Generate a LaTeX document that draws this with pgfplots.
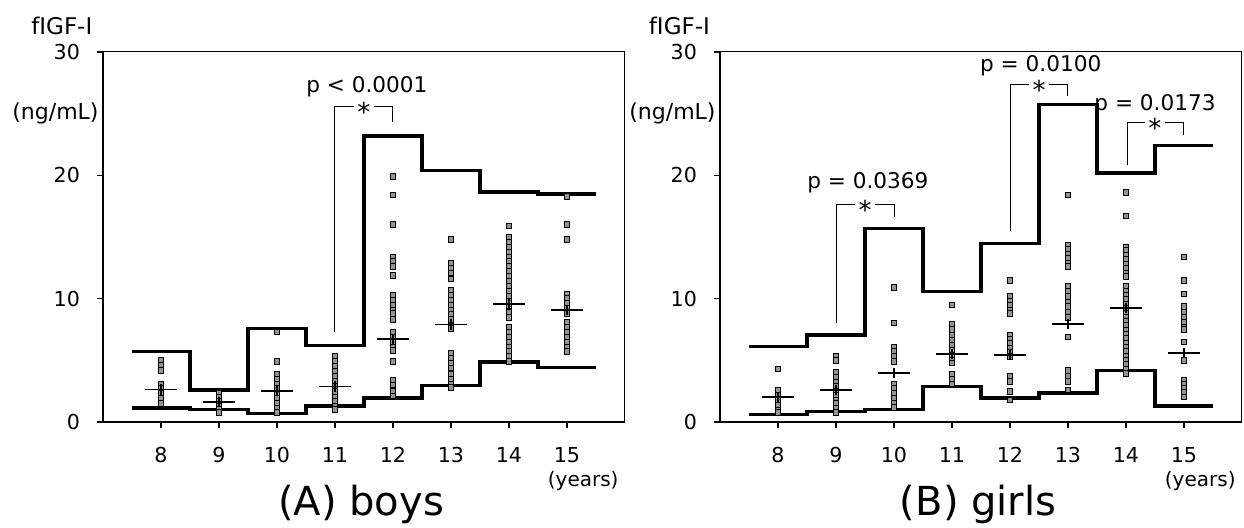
\documentclass[border=0pt]{standalone}
\usepackage{fontspec}
\setmainfont{DejaVu Sans}
\usepackage{pgfplots}
\pgfplotsset{compat=1.18}

\pgfplotsset{
  panel/.style={
    scale only axis, width=261pt, height=185pt, anchor=south west,
    xmin=7, xmax=16, ymin=0, ymax=30,
    xtick={8,...,15}, ytick={0,10,20,30},
    xtick pos=bottom, ytick pos=left,
    tick align=outside, major tick length=3pt,
    tick style={black, line width=0.6pt},
    axis line style={line width=0.5pt},
    clip=false,
    /pgf/number format/assume math mode=true,
    tick label style={font=\fontsize{10.3}{12}\selectfont},
    xticklabel shift=6pt, yticklabel shift=5pt,
  },
  bound/.style={black, line width=1.7pt, const plot mark left, line join=miter, no marks},
  pts/.style={only marks, mark=square*, mark size=1.4pt, mark options={fill=black!42, draw=none}},
  meanh/.style={only marks, mark=-, mark size=7.8pt, mark options={line width=0.8pt, black}},
  meanv/.style={only marks, mark=|, mark size=2.6pt, mark options={line width=0.8pt, black}},
}
\tikzset{brk/.style={black, line width=0.5pt}}
\newcommand{\frameit}{%
  \draw[line width=0.9pt] (rel axis cs:0,1) -- (rel axis cs:0,0) -- (rel axis cs:1,0);}
\newcommand{\sigstar}[2]{\node[inner sep=0pt, anchor=base, yshift=-7.6pt,
  font=\fontsize{13}{13}\selectfont] at (axis cs:#1,#2) {*};}
\newcommand{\pval}[3]{\node[inner sep=0pt, font=\fontsize{10.8}{12}\selectfont] at (axis cs:#1,#2) {#3};}

\begin{document}
\begin{tikzpicture}
\useasboundingbox (0pt,0pt) rectangle (622pt,264pt);

% ---------------- (A) boys
\begin{axis}[panel, at={(51.5pt,53pt)}]
\frameit
\addplot[pts] table {
x y
8 5.0
8 4.6
8 4.2
8 3.1
8 2.7
8 2.3
8 1.9
8 1.5
9 2.3
9 2.0
9 1.65
9 1.3
9 1.0
9 0.76
10 7.3
10 4.9
10 3.9
10 3.5
10 3.1
10 2.7
10 2.3
10 1.9
10 1.5
10 1.1
10 0.8
11 5.3
11 4.9
11 4.5
11 4.1
11 3.7
11 3.3
11 2.9
11 2.5
11 2.05
11 1.65
11 1.25
11 1.0
12 19.9
12 18.4
12 16.0
12 13.4
12 13.0
12 12.6
12 11.9
12 10.3
12 9.9
12 9.5
12 9.1
12 8.8
12 8.3
12 7.3
12 6.9
12 6.5
12 6.1
12 5.8
12 4.9
12 3.4
12 3.0
12 2.5
12 2.1
13 14.8
13 12.9
13 12.5
13 12.1
13 11.6
13 10.7
13 10.3
13 9.9
13 9.5
13 9.1
13 8.7
13 8.3
13 7.8
13 7.6
13 5.6
13 5.2
13 4.8
13 4.4
13 3.9
13 3.5
13 3.1
13 2.8
14 15.9
14 15.0
14 14.6
14 14.2
14 13.8
14 13.4
14 13.0
14 12.6
14 12.2
14 11.8
14 11.4
14 11.0
14 10.6
14 10.2
14 9.8
14 9.4
14 8.9
14 8.5
14 7.7
14 7.3
14 6.9
14 6.5
14 6.1
14 5.7
14 5.3
14 4.9
15 18.3
15 16.0
15 14.8
15 10.4
15 10.0
15 9.6
15 9.2
15 8.8
15 8.1
15 7.7
15 7.3
15 6.9
15 6.5
15 6.1
15 5.7
};
\addplot[bound] coordinates {(7.5,5.7) (8.5,2.6) (9.5,7.6) (10.5,6.2) (11.5,23.2) (12.5,20.4) (13.5,18.65) (14.5,18.5) (15.5,18.5)};
\addplot[bound] coordinates {(7.5,1.15) (8.5,1.0) (9.5,0.7) (10.5,1.3) (11.5,1.95) (12.5,2.97) (13.5,4.85) (14.5,4.42) (15.5,4.42)};
\addplot[meanh] coordinates {(8,2.65) (9,1.62) (10,2.51) (11,2.89) (12,6.72) (13,7.9) (14,9.56) (15,9.07)};
\addplot[meanv] coordinates {(8,2.65) (9,1.62) (10,2.51) (11,2.89) (12,6.72) (13,7.9) (14,9.56) (15,9.07)};
\draw[brk] (axis cs:11,7.3) -- (axis cs:11,25.6) -- (axis cs:11.33,25.6);
\draw[brk] (axis cs:11.67,25.6) -- (axis cs:12,25.6) -- (axis cs:12,24.3);
\sigstar{11.5}{25.6}
\pval{11.55}{27.2}{p < 0.0001}
\node[font=\fontsize{11.5}{13}\selectfont] at (axis cs:6.29,32.1) {fIGF-I};
\node[anchor=east, inner sep=0pt, font=\fontsize{11}{13}\selectfont] at (axis cs:6.93,25) {(ng/mL)};
\node[font=\fontsize{10}{12}\selectfont] at (axis cs:15.28,-4.75) {(years)};
\node[font=\fontsize{20}{24}\selectfont] at (axis cs:11.45,-6.65) {(A) boys};
\end{axis}

% ---------------- (B) girls
\begin{axis}[panel, at={(360pt,53pt)}]
\frameit
\addplot[pts] table {
x y
8 4.3
8 2.6
8 2.2
8 1.8
8 1.4
8 0.97
8 0.8
9 5.3
9 5.0
9 4.0
9 3.6
9 3.2
9 2.9
9 2.5
9 2.2
9 1.8
9 1.5
9 1.1
9 0.8
10 10.9
10 8.05
10 6.1
10 5.7
10 5.3
10 4.9
10 3.1
10 2.7
10 2.3
10 1.9
10 1.5
10 1.2
11 9.5
11 7.9
11 7.5
11 7.05
11 6.6
11 6.2
11 5.8
11 5.4
11 5.0
11 4.8
11 3.9
11 3.5
11 3.1
12 11.5
12 10.2
12 9.8
12 9.5
12 9.1
12 8.8
12 7.05
12 6.7
12 6.35
12 6.0
12 5.65
12 5.3
12 3.7
12 3.3
12 2.5
12 1.8
13 18.4
13 14.35
13 14.0
13 13.6
13 13.3
13 12.9
13 12.6
13 11.0
13 10.6
13 10.2
13 9.75
13 9.35
13 8.9
13 8.5
13 6.9
13 4.2
13 3.7
13 3.3
13 2.6
14 18.6
14 16.7
14 14.2
14 13.9
14 13.5
14 13.2
14 12.8
14 12.5
14 12.1
14 11.8
14 10.97
14 10.62
14 10.27
14 9.92
14 9.57
14 9.22
14 8.86
14 8.51
14 8.16
14 7.81
14 7.46
14 7.11
14 6.76
14 6.41
14 6.05
14 5.7
14 5.35
14 5.0
14 4.65
14 4.3
14 3.95
15 13.4
15 11.5
15 10.4
15 9.35
15 8.9
15 8.5
15 8.1
15 7.7
15 7.5
15 6.5
15 5.0
15 3.4
15 3.1
15 2.7
15 2.4
15 2.05
};
\addplot[bound] coordinates {(7.5,6.1) (8.5,7.05) (9.5,15.7) (10.5,10.6) (11.5,14.45) (12.5,25.75) (13.5,20.2) (14.5,22.4) (15.5,22.4)};
\addplot[bound] coordinates {(7.5,0.62) (8.5,0.86) (9.5,1.03) (10.5,2.89) (11.5,1.95) (12.5,2.35) (13.5,4.19) (14.5,1.3) (15.5,1.3)};
\addplot[meanh] coordinates {(8,2.04) (9,2.58) (10,3.98) (11,5.52) (12,5.42) (13,7.93) (14,9.23) (15,5.6)};
\addplot[meanv] coordinates {(8,2.04) (9,2.58) (10,3.98) (11,5.52) (12,5.42) (13,7.93) (14,9.23) (15,5.6)};
\draw[brk] (axis cs:9,8.0) -- (axis cs:9,17.65) -- (axis cs:9.33,17.65);
\draw[brk] (axis cs:9.67,17.65) -- (axis cs:10,17.65) -- (axis cs:10,16.6);
\sigstar{9.5}{17.65}
\pval{9.55}{19.4}{p = 0.0369}
\draw[brk] (axis cs:12,15.5) -- (axis cs:12,27.4) -- (axis cs:12.33,27.4);
\draw[brk] (axis cs:12.67,27.4) -- (axis cs:13,27.4) -- (axis cs:13,26.4);
\sigstar{12.5}{27.4}
\pval{12.53}{28.9}{p = 0.0100}
\draw[brk] (axis cs:14.03,20.8) -- (axis cs:14.03,24.3) -- (axis cs:14.33,24.3);
\draw[brk] (axis cs:14.67,24.3) -- (axis cs:15,24.3) -- (axis cs:15,23.3);
\sigstar{14.5}{24.3}
\pval{14.5}{25.7}{p = 0.0173}
\node[font=\fontsize{11.5}{13}\selectfont] at (axis cs:6.3,32.1) {fIGF-I};
\node[anchor=east, inner sep=0pt, font=\fontsize{11}{13}\selectfont] at (axis cs:6.93,25) {(ng/mL)};
\node[font=\fontsize{10}{12}\selectfont] at (axis cs:15.28,-4.75) {(years)};
\node[font=\fontsize{20}{24}\selectfont] at (axis cs:11.45,-6.65) {(B) girls};
\end{axis}
\end{tikzpicture}
\end{document}
